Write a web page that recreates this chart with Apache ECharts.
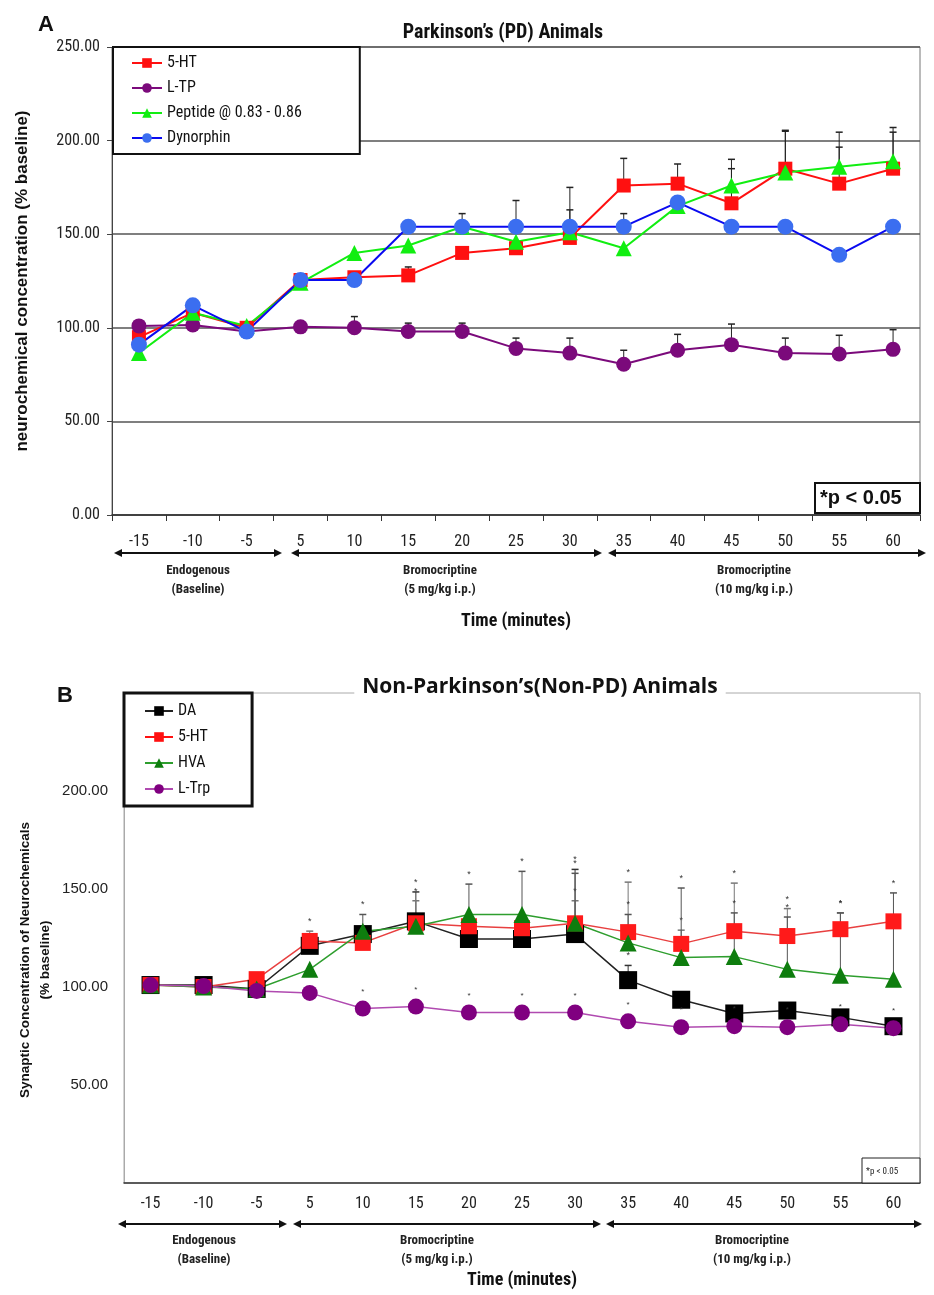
<!DOCTYPE html>
<html>
<head>
<meta charset="utf-8">
<script src="https://cdn.jsdelivr.net/npm/echarts@6/dist/echarts.min.js"></script>
<style>
  html, body { margin: 0; padding: 0; background: #fff; }
  #chart { width: 934px; height: 1295px; }
</style>
</head>
<body>
<div id="chart"></div>
<script>
// time points (minutes), shared by both panels
const timeLabels = ['-15', '-10', '-5', '5', '10', '15', '20', '25', '30', '35', '40', '45', '50', '55', '60'];

// Panel A - Parkinson's (PD) animals, % baseline
const pdSerotonin = [95, 108, 100, 125.5, 127, 128, 140, 142.5, 148, 176, 177, 166.5, 185, 177, 185];
const pdTryptophan = [101, 101.5, 98, 100.5, 100, 98, 98, 89, 86.5, 80.5, 88, 91, 86.5, 86, 88.5];
const pdPeptide = [86.5, 108, 101, 124, 140, 144, 154, 146, 151, 142.5, 165, 176, 183, 186, 189];
const pdDynorphin = [91, 112, 98, 125.5, 125.5, 154, 154, 154, 154, 154, 167, 154, 154, 139, 154];

// upper end of the error bars (null = none drawn)
const n = null;
const pdSerotoninErr = [n, n, n, n, n, 132.5, n, n, 175, 190.5, 187.5, 185, 205.5, 196.5, 204.5];
const pdTryptophanErr = [n, n, n, n, 106, 102.5, 102.5, 94.5, 94.5, 88, 96.5, 102, 94.5, 96, 99];
const pdPeptideErr = [n, n, n, n, n, n, 161, n, n, n, n, 190, 205, 204.5, 207];
const pdDynorphinErr = [n, n, n, n, n, n, n, 168, 163, 161, n, n, n, n, n];

// Panel B - Non-Parkinson's (Non-PD) animals, % baseline
const npDopamine = [101, 101, 99, 121, 127, 133.5, 124.5, 124.5, 127, 103.5, 93.5, 86.5, 88, 84.5, 80];
const npSerotonin = [101, 100, 104, 123.5, 122.5, 132.5, 131, 130, 132.5, 128, 122, 128.5, 126, 129.5, 133.5];
const npHva = [101, 100, 99, 109, 128.5, 131, 137, 137, 132.5, 122.5, 115, 115.5, 109, 106, 104];
const npTryptophan = [101, 100.5, 98, 97, 89, 90, 87, 87, 87, 82.5, 79.5, 80, 79.5, 81, 79];

const npDopamineErr = [n, n, n, n, n, 148.5, n, n, 160, 111, n, n, n, n, n];
const npSerotoninErr = [n, n, n, 128.5, n, 144, n, n, 144, 153.5, 129, 153, 140, 137.8, n];
const npHvaErr = [n, n, n, n, 137, n, 152.5, 159, 158, 137, 150.5, 137.8, 135.7, 137.8, 148];

const phaseText = ['Endogenous\n(Baseline)', 'Bromocriptine\n(5 mg/kg i.p.)', 'Bromocriptine\n(10 mg/kg i.p.)'];

const narrow = "'Liberation Sans Narrow', 'Arial Narrow', 'Roboto Condensed', sans-serif";
const arial = "'Liberation Sans', Arial, sans-serif";

const chart = echarts.init(document.getElementById('chart'));

function errSeries(values, tops, panel, color, star) {
  const data = [];
  tops.forEach((t, i) => { if (t !== null) data.push([i, values[i], t]); });
  return {
    type: 'custom',
    xAxisIndex: panel,
    yAxisIndex: panel,
    z: 1,
    silent: true,
    data: data,
    renderItem: function (params, api) {
      const base = api.coord([api.value(0), api.value(1)]);
      const top = api.coord([api.value(0), api.value(2)]);
      const kids = [
        { type: 'line', shape: { x1: base[0], y1: base[1], x2: top[0], y2: top[1] }, style: { stroke: color, lineWidth: 1 } },
        { type: 'line', shape: { x1: top[0] - 3.5, y1: top[1], x2: top[0] + 3.5, y2: top[1] }, style: { stroke: color, lineWidth: 1.5 } }
      ];
      if (star) {
        kids.push({ type: 'text', style: { text: '*', x: top[0], y: top[1] - 5, align: 'center', verticalAlign: 'bottom', font: '9px ' + arial, fill: '#333' } });
      }
      return { type: 'group', children: kids };
    }
  };
}

function lineSeries(name, data, panel, symbol, size, color, lineColor, lineWidth) {
  return {
    name: name,
    type: 'line',
    xAxisIndex: panel,
    yAxisIndex: panel,
    data: data,
    symbol: symbol,
    symbolSize: size,
    z: 3,
    itemStyle: { color: color, borderWidth: 0 },
    lineStyle: { color: lineColor, width: lineWidth }
  };
}

function arrow(x1, x2, y) {
  const c = '#111';
  return [
    { type: 'line', shape: { x1: x1 + 4, y1: y, x2: x2 - 4, y2: y }, style: { stroke: c, lineWidth: 2 } },
    { type: 'polygon', shape: { points: [[x1, y], [x1 + 8, y - 4], [x1 + 8, y + 4]] }, style: { fill: c } },
    { type: 'polygon', shape: { points: [[x2, y], [x2 - 8, y - 4], [x2 - 8, y + 4]] }, style: { fill: c } }
  ];
}

function phaseLabel(x, y, i) {
  return {
    type: 'text', x: x, y: y,
    style: { text: phaseText[i], align: 'center', verticalAlign: 'top', font: 'bold 13px ' + narrow, lineHeight: 19, fill: '#222' }
  };
}

const lTrpSeries = lineSeries('L-Trp', npTryptophan, 1, 'circle', 16, '#800080', '#b04ab0', 1.5);
lTrpSeries.label = {
  show: true, position: 'top', distance: 5, fontSize: 8, color: '#333',
  formatter: p => (p.dataIndex >= 4 ? '*' : '')
};

const option = {
  animation: false,
  backgroundColor: '#fff',
  title: [
    { text: 'A', left: 33, top: 9, textStyle: { fontFamily: arial, fontWeight: 'bold', fontSize: 22, color: '#111' } },
    { text: 'Parkinson\u2019s (PD) Animals', left: 498, textAlign: 'center', top: 18,
      textStyle: { fontFamily: narrow, fontWeight: 'bold', fontSize: 20, color: '#111' } },
    { text: 'B', left: 52, top: 680, textStyle: { fontFamily: arial, fontWeight: 'bold', fontSize: 22, color: '#111' } },
    { text: 'Non-Parkinson\u2019s(Non-PD) Animals', left: 532, textAlign: 'center', top: 677,
      backgroundColor: '#fff', padding: [0, 8],
      textStyle: { fontFamily: "'Open Sans', " + arial, fontWeight: 'bold', fontSize: 21, color: '#111' } }
  ],
  legend: [
    {
      data: ['5-HT', 'L-TP', 'Peptide @ 0.83 - 0.86', 'Dynorphin'],
      orient: 'vertical', left: 113, top: 47,
      itemWidth: 30, itemHeight: 12, itemGap: 9,
      padding: [8, 58, 8, 18],
      backgroundColor: '#fff', borderColor: '#111', borderWidth: 2,
      textStyle: { fontFamily: narrow, fontSize: 16, color: '#111' }
    },
    {
      data: ['DA', '5-HT', 'HVA', 'L-Trp'],
      orient: 'vertical', left: 124, top: 693,
      itemWidth: 28, itemHeight: 12, itemGap: 10,
      padding: [10, 42, 9, 20],
      backgroundColor: '#fff', borderColor: '#111', borderWidth: 3,
      textStyle: { fontFamily: narrow, fontSize: 16, color: '#111' }
    }
  ],
  grid: [
    { left: 112, top: 47, width: 808, height: 468, show: true, borderColor: '#777', borderWidth: 1 },
    { left: 124, top: 693, width: 796, height: 490, show: true, borderColor: '#aaa', borderWidth: 1 }
  ],
  xAxis: [
    {
      type: 'category', gridIndex: 0, data: timeLabels,
      axisLine: { lineStyle: { color: '#333', width: 1.5 } },
      axisTick: { show: true, length: 6, lineStyle: { color: '#333' } },
      axisLabel: { margin: 19, fontFamily: narrow, fontSize: 16, color: '#222' },
      name: 'Time (minutes)', nameLocation: 'middle', nameGap: 97,
      nameTextStyle: { fontFamily: narrow, fontWeight: 'bold', fontSize: 18, color: '#111' }
    },
    {
      type: 'category', gridIndex: 1, data: timeLabels,
      axisLine: { lineStyle: { color: '#333', width: 1.5 } },
      axisTick: { show: false },
      axisLabel: { margin: 13, fontFamily: narrow, fontSize: 16, color: '#222' },
      name: 'Time (minutes)', nameLocation: 'middle', nameGap: 88,
      nameTextStyle: { fontFamily: narrow, fontWeight: 'bold', fontSize: 18, color: '#111' }
    }
  ],
  yAxis: [
    {
      type: 'value', gridIndex: 0, min: 0, max: 250, interval: 50,
      axisLine: { show: true, lineStyle: { color: '#444' } },
      axisTick: { show: true, length: 5, lineStyle: { color: '#444' } },
      axisLabel: { margin: 12, formatter: v => v.toFixed(2), fontFamily: narrow, fontSize: 16, color: '#222' },
      splitLine: { lineStyle: { color: '#555', width: 1.5 } },
      name: 'neurochemical concentration (% baseline)', nameLocation: 'middle', nameGap: 81,
      nameTextStyle: { fontFamily: arial, fontWeight: 'bold', fontSize: 17, color: '#111' }
    },
    {
      type: 'value', gridIndex: 1, min: 0, max: 250, interval: 50,
      axisLine: { show: true, lineStyle: { color: '#aaa' } },
      axisTick: { show: false },
      axisLabel: { margin: 16, formatter: v => (v === 0 || v === 250 ? '' : v.toFixed(2)), fontFamily: arial, fontSize: 15, color: '#222' },
      splitLine: { show: false }
    }
  ],
  series: [
    errSeries(pdSerotonin, pdSerotoninErr, 0, '#222', false),
    errSeries(pdTryptophan, pdTryptophanErr, 0, '#222', false),
    errSeries(pdPeptide, pdPeptideErr, 0, '#222', false),
    errSeries(pdDynorphin, pdDynorphinErr, 0, '#222', false),
    lineSeries('5-HT', pdSerotonin, 0, 'rect', 14, '#ff1010', '#ff1010', 2),
    lineSeries('L-TP', pdTryptophan, 0, 'circle', 15, '#7b0a7b', '#7b0a7b', 2),
    lineSeries('Peptide @ 0.83 - 0.86', pdPeptide, 0, 'triangle', 16, '#11ee11', '#11ee11', 2),
    lineSeries('Dynorphin', pdDynorphin, 0, 'circle', 16, '#3b6ef0', '#0a0af0', 2),

    errSeries(npDopamine, npDopamineErr, 1, '#333', true),
    errSeries(npSerotonin, npSerotoninErr, 1, '#777', true),
    errSeries(npHva, npHvaErr, 1, '#555', true),
    lineSeries('DA', npDopamine, 1, 'rect', 18, '#000', '#222', 1.5),
    lineSeries('5-HT', npSerotonin, 1, 'rect', 16, '#ff1a1a', '#e84040', 1.5),
    lineSeries('HVA', npHva, 1, 'triangle', 17, '#0e7d0e', '#2e9e2e', 1.5),
    lTrpSeries
  ],
  graphic: [
    // significance boxes
    { type: 'rect', shape: { x: 815, y: 483, width: 105, height: 30 }, style: { fill: '#fff', stroke: '#111', lineWidth: 2 }, z: 10 },
    { type: 'text', x: 820, y: 498, z: 11, style: { text: '*p < 0.05', verticalAlign: 'middle', font: 'bold 20px ' + arial, fill: '#111' } },
    { type: 'rect', shape: { x: 862, y: 1158, width: 58, height: 25 }, style: { fill: '#fff', stroke: '#222', lineWidth: 1 }, z: 10 },
    { type: 'text', x: 866, y: 1172, z: 11, style: { text: '*p < 0.05', verticalAlign: 'middle', font: '9px ' + narrow, fill: '#222' } },
    // panel B axis title
    { type: 'text', x: 35, y: 960, rotation: Math.PI / 2,
      style: { text: 'Synaptic Concentration of Neurochemicals\n(% baseline)', align: 'center', verticalAlign: 'middle', font: 'bold 13.5px ' + arial, lineHeight: 20, fill: '#111' } },
    // treatment phases, panel A
    ...arrow(114, 282, 553), ...arrow(291, 602, 553), ...arrow(608, 926, 553),
    phaseLabel(198, 561, 0), phaseLabel(440, 561, 1), phaseLabel(754, 561, 2),
    // treatment phases, panel B
    ...arrow(118, 287, 1224), ...arrow(293, 601, 1224), ...arrow(606, 922, 1224),
    phaseLabel(204, 1231, 0), phaseLabel(437, 1231, 1), phaseLabel(752, 1231, 2)
  ]
};

chart.setOption(option);
</script>
</body>
</html>
